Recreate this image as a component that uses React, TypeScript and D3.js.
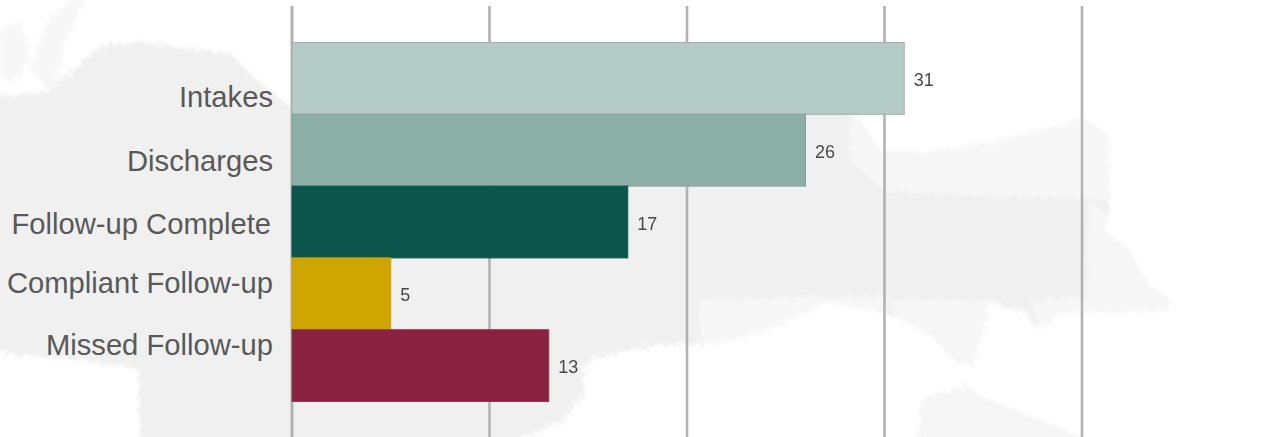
import * as d3 from "d3";

const categories = ["Intakes", "Discharges", "Follow-up Complete", "Compliant Follow-up", "Missed Follow-up"];
const values = [31, 26, 17, 5, 13];
const barColors = ["#b5cbc7", "#8cafa8", "#0d564b", "#cfa600", "#8b2142"];
const barStrokes = ["#a3aeab", "#8a9f9a", "#0d564b", "#cfa600", "#8a3a52"];
const tickValues = [0, 10, 20, 30, 40];
// category labels sit a bit off the bars in the original, positions
const labelBaselines = [106.5, 170.5, 233.5, 293, 355];
const labelRightEdges = [273, 273, 271, 273, 273];

// faint world map behind the chart, rough outlines in page pixels
const mapLand: [number, number][] = [
  [0, 96], [48, 92], [72, 72], [100, 46], [140, 42], [232, 54], [252, 76], [292, 108], [420, 90], [600, 80], [800, 100],
  [856, 114], [880, 150], [930, 152], [965, 146], [1005, 140], [1040, 128], [1085, 118], [1108, 135], [1110, 205],
  [1106, 232], [1130, 250], [1148, 285], [1170, 298], [1170, 311], [1110, 312], [1060, 314], [1050, 325], [1030, 326],
  [1030, 312], [990, 304], [982, 340], [972, 366], [955, 362], [930, 335], [905, 322], [880, 311], [825, 303], [780, 325],
  [720, 343], [655, 345], [600, 358], [586, 362], [582, 398], [560, 422], [505, 445], [140, 445], [138, 368], [70, 360], [-10, 352], [-10, 96],
];
const mapWisps: [number, number][][] = [
  [[30, 70], [45, 25], [70, 0], [85, 0], [62, 50], [55, 98], [40, 80]],
  [[0, 30], [22, 20], [30, 60], [12, 85], [0, 78]],
];
const mapAustralia: [number, number][] = [
  [917, 445], [922, 398], [965, 385], [990, 400], [1040, 420], [1102, 445],
];
// stippled parts of the map read lighter than the solid middle
const mapFaded: [number, number][][] = [
  [[850, 110], [1120, 110], [1120, 200], [885, 192], [850, 160]],
  [[1090, 200], [1180, 280], [1180, 320], [1040, 330], [1030, 302], [1085, 296]],
  [[890, 300], [1000, 300], [990, 370], [950, 370], [895, 325]],
  [[700, 300], [890, 295], [880, 320], [700, 350]],
];

const width = 1271;
const height = 437;

export default function App() {
  const x = d3.scaleLinear().domain([0, 40]).range([292, 1082]);
  const y = d3.scaleBand<string>().domain(categories).range([42.5, 401.5]);
  const outline = d3.line().curve(d3.curveLinearClosed);

  return (
    <svg
      width={width}
      height={height}
      viewBox={`0 0 ${width} ${height}`}
      style={{ position: "absolute", left: 0, top: 0, background: "#fff" }}
    >
      <defs>
        <filter id="mapEdge" filterUnits="userSpaceOnUse" x={-20} y={-20} width={width + 40} height={height + 40}>
          <feTurbulence type="fractalNoise" baseFrequency="0.22" numOctaves="2" seed="4" result="noise" />
          <feDisplacementMap in="SourceGraphic" in2="noise" scale="16" />
          <feGaussianBlur stdDeviation="1.8" />
        </filter>
        <filter id="soft" filterUnits="userSpaceOnUse" x={0} y={0} width={width} height={height}>
          <feGaussianBlur stdDeviation="0.45" />
        </filter>
      </defs>

      <g filter="url(#mapEdge)">
        <g fill="#f0f0f0">
          <path d={outline(mapLand) ?? ""} />
          <path d={outline(mapAustralia) ?? ""} fillOpacity={0.6} />
          {mapWisps.map((wisp, i) => (
            <path key={i} d={outline(wisp) ?? ""} fillOpacity={0.5} />
          ))}
        </g>
        <g fill="#fff" fillOpacity={0.45}>
          {mapFaded.map((patch, i) => (
            <path key={i} d={outline(patch) ?? ""} />
          ))}
        </g>
      </g>

      <g filter="url(#soft)">
        {tickValues.map((tick) => (
          <line
            key={tick}
            x1={x(tick)}
            x2={x(tick)}
            y1={6}
            y2={height}
            stroke="#b2b2b2"
            strokeWidth={tick === 0 ? 3 : 2.6}
          />
        ))}
      </g>

      {categories.map((cat, i) => (
        <rect
          key={cat}
          x={x(0)}
          y={y(cat)}
          width={x(values[i]) - x(0)}
          height={y.bandwidth()}
          fill={barColors[i]}
          stroke={barStrokes[i]}
          strokeWidth={1}
        />
      ))}

      <g filter="url(#soft)">
        {categories.map((cat, i) => (
          <text
            key={cat}
            x={x(values[i]) + 9.5}
            y={(y(cat) ?? 0) + y.bandwidth() / 2 + 7.5}
            fontFamily="Liberation Sans"
            fontSize={18}
            fill="#484848"
          >
            {values[i]}
          </text>
        ))}
      </g>

      {categories.map((cat, i) => (
        <text
          key={cat}
          x={labelRightEdges[i]}
          y={labelBaselines[i]}
          textAnchor="end"
          fontFamily="Liberation Sans"
          fontSize={29.2}
          fill="#595959"
        >
          {cat}
        </text>
      ))}
    </svg>
  );
}
